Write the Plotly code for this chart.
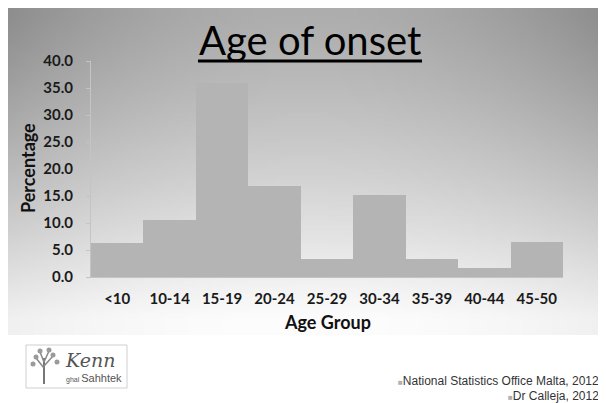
import base64
import struct
import zlib

import plotly.graph_objects as go

# chart data
age_groups = ["<10", "10-14", "15-19", "20-24", "25-29", "30-34", "35-39", "40-44", "45-50"]
percentages = [6.3, 10.5, 36.0, 16.9, 3.3, 15.1, 3.3, 1.7, 6.4]
y_ticks = [0, 5, 10, 15, 20, 25, 30, 35, 40]

# the page puts the figure 8px in from the top-left corner
OFF = 8
W, H = 606 - OFF, 403 - OFF
# plot area in reference pixels
L, R, T, B = 91, 563, 61, 277


def px(x):
    return (x - L) / (R - L)


def py(y):
    return (B - y) / (B - T)


def gradient_png(w, h):
    """Grey slide background: darker at top/edges, fading to white at the bottom."""
    rows = []
    for j in range(h):
        t = min(1.0, (j / (h - 1)) * 1.05)
        base = 174 + (253 - 174) * t ** 1.25
        row = bytearray([0])
        for i in range(w):
            s = abs(i / (w - 1) - 0.5) * 2
            g = base - 32 * s ** 2 * (1 - 0.6 * t)
            g = int(max(0, min(255, g)))
            row += bytes([g, g, g])
        rows.append(bytes(row))
    raw = b"".join(rows)

    def chunk(tag, data):
        c = struct.pack(">I", len(data)) + tag + data
        return c + struct.pack(">I", zlib.crc32(tag + data) & 0xFFFFFFFF)

    png = b"\x89PNG\r\n\x1a\n"
    png += chunk(b"IHDR", struct.pack(">IIBBBBB", w, h, 8, 2, 0, 0, 0))
    png += chunk(b"IDAT", zlib.compress(raw, 9))
    png += chunk(b"IEND", b"")
    return "data:image/png;base64," + base64.b64encode(png).decode()


fig = go.Figure(go.Bar(
    x=age_groups,
    y=percentages,
    marker=dict(color="#b4b4b4", line=dict(width=0)),
    hoverinfo="x+y",
))

bg_x0, bg_y0, bg_x1, bg_y1 = 7, 8, 604, 335
fig.add_layout_image(
    source=gradient_png(120, 70),
    xref="paper", yref="paper",
    x=px(bg_x0), y=py(bg_y0),
    sizex=(bg_x1 - bg_x0) / (R - L), sizey=(bg_y1 - bg_y0) / (B - T),
    xanchor="left", yanchor="top",
    sizing="stretch", layer="below",
)

font = "Lato, 'Open Sans', sans-serif"
ann = []
ann.append(dict(text="Age of onset", x=px(310), y=py(40), xanchor="center", yanchor="middle",
                font=dict(family=font, size=40, color="#000000")))
ann.append(dict(text="<b>Percentage</b>", x=px(28), y=py(168), textangle=-90, xanchor="center",
                yanchor="middle", font=dict(family=font, size=18, color="#111111")))
ann.append(dict(text="<b>Age Group</b>", x=px(327), y=py(322), xanchor="center", yanchor="middle",
                font=dict(family=font, size=18, color="#111111")))

credit_font = dict(family="'Liberation Sans', Arial, sans-serif", size=12, color="#333333")
bullet = "<span style='color:#b0b0b0;font-size:8px'>■</span>"
ann.append(dict(text=bullet + "National Statistics Office Malta, 2012", x=px(601), y=py(381),
                xanchor="right", yanchor="middle", font=credit_font))
ann.append(dict(text=bullet + "Dr Calleja, 2012", x=px(601), y=py(396),
                xanchor="right", yanchor="middle", font=credit_font))

# logo
ann.append(dict(text="<i>Kenn</i>", x=px(90), y=py(360), xanchor="center", yanchor="middle",
                font=dict(family="'DejaVu Serif', serif", size=19, color="#555555")))
ann.append(dict(text="<span style='font-size:7px'>ghal </span>Sahhtek", x=px(94), y=py(378),
                xanchor="center", yanchor="middle",
                font=dict(family="'Liberation Sans', Arial, sans-serif", size=11, color="#555555")))
for a in ann:
    a.update(xref="paper", yref="paper", showarrow=False)

shapes = [
    # title underline
    dict(type="line", xref="paper", yref="paper", x0=px(198), x1=px(422), y0=py(61), y1=py(61),
         line=dict(color="#000000", width=3)),
    dict(type="rect", xref="paper", yref="paper", x0=px(26), x1=px(127), y0=py(345), y1=py(388),
         line=dict(color="#cfcfcf", width=1), fillcolor="#ffffff", layer="below"),
    # little tree in the logo
    dict(type="line", xref="paper", yref="paper", x0=px(44), x1=px(44), y0=py(384), y1=py(358),
         line=dict(color="#777777", width=2)),
]
for (x0, y0, x1, y1) in [(44, 368, 36, 358), (44, 366, 53, 356), (44, 362, 40, 352), (44, 362, 49, 351)]:
    shapes.append(dict(type="line", xref="paper", yref="paper", x0=px(x0), y0=py(y0), x1=px(x1),
                       y1=py(y1), line=dict(color="#888888", width=1.5)))
for (cx, cy) in [(36, 357), (53, 355), (40, 351), (49, 350), (33, 364), (57, 362)]:
    shapes.append(dict(type="circle", xref="paper", yref="paper", x0=px(cx - 2.5), x1=px(cx + 2.5),
                       y0=py(cy + 2.5), y1=py(cy - 2.5), line=dict(width=0), fillcolor="#9a9a9a"))

fig.update_layout(
    width=W, height=H,
    margin=dict(l=L - OFF, r=606 - R, t=T - OFF, b=403 - B, pad=0),
    paper_bgcolor="#ffffff",
    plot_bgcolor="rgba(0,0,0,0)",
    bargap=0,
    showlegend=False,
    annotations=ann,
    shapes=shapes,
    xaxis=dict(
        showline=True, linecolor="#c4c4c4", linewidth=1,
        ticks="", showgrid=False,
        tickfont=dict(family=font, size=15, color="#1a1a1a", weight="bold"),
        ticklabelstandoff=8,
    ),
    yaxis=dict(
        range=[0, 40], tickvals=y_ticks, tickformat=".1f",
        showline=True, linecolor="#c4c4c4", linewidth=1,
        ticks="outside", ticklen=4, tickcolor="#c4c4c4",
        showgrid=False, zeroline=False,
        tickfont=dict(family=font, size=15, color="#1a1a1a", weight="bold"),
        ticklabelstandoff=10,
    ),
)

fig.write_html("out.html")
